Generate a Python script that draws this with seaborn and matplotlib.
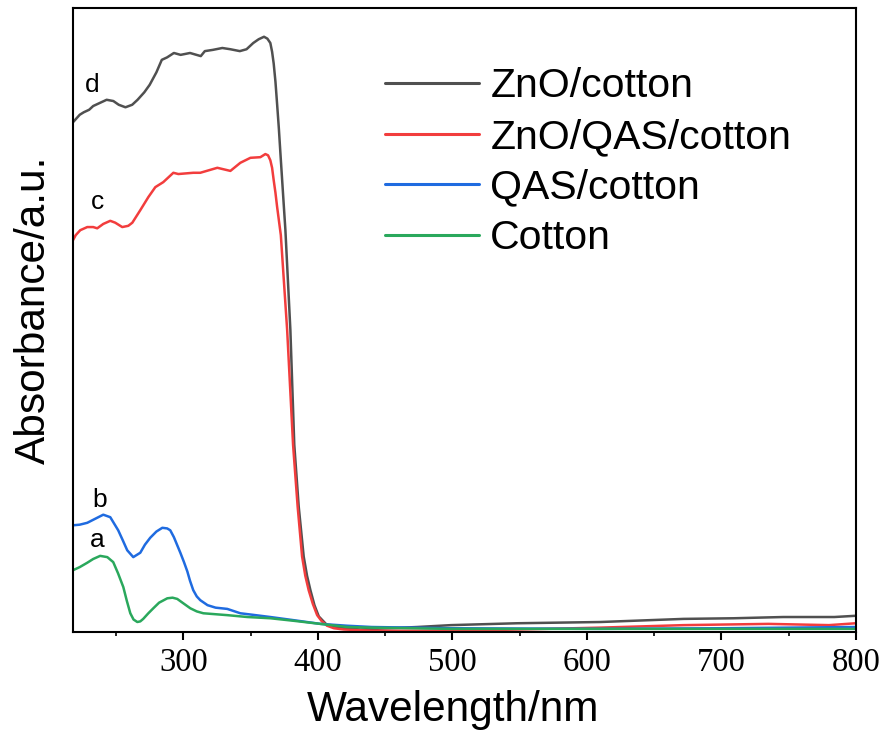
import numpy as np
import pandas as pd
import seaborn as sns
from matplotlib import pyplot as plt
from matplotlib.ticker import MultipleLocator

# wavelength (nm) / absorbance (a.u.)
zno_x = [218, 223, 226, 230, 233, 238, 243, 248, 252, 257, 262, 266, 271, 275, 280,
         284, 288, 293, 298, 305, 313, 316, 322, 329, 335, 342, 347, 352, 356, 360, 362.5,
         364.7, 366, 367.2, 368.5, 369.7, 371, 372.2, 374.6, 375.9, 379.6, 382.5, 385.8,
         389.5, 392, 394.5, 397.5, 400.7, 406.9, 419.3, 431.7, 474, 499, 548, 610, 672,
         709, 746, 784, 800]
zno_y = [0.817, 0.829, 0.833, 0.837, 0.843, 0.848, 0.853, 0.851, 0.845, 0.841, 0.845,
         0.853, 0.865, 0.877, 0.897, 0.917, 0.921, 0.928, 0.925, 0.928, 0.923, 0.931,
         0.933, 0.936, 0.934, 0.931, 0.934, 0.944, 0.950, 0.954, 0.951, 0.944, 0.930,
         0.911, 0.882, 0.847, 0.808, 0.767, 0.687, 0.644, 0.484, 0.300, 0.201, 0.121,
         0.090, 0.067, 0.043, 0.025, 0.011, 0.006, 0.004, 0.008, 0.011, 0.014, 0.016,
         0.021, 0.022, 0.024, 0.024, 0.026]

znoqas_x = [218, 220, 223.4, 228.6, 233, 236, 240.5, 245.7, 249.4, 254.6, 259.1, 262.1,
            268, 274, 279.2, 285.1, 292.6, 296.3, 307.4, 312.6, 325.3, 335, 342.4, 349.9,
            357.3, 361, 363, 364.7, 366, 367.2, 368.5, 369.7, 372.5, 377.2, 381.6, 385,
            388.3, 390.7, 393.2, 396.3, 399.5, 403, 406.9, 412, 419.3, 440, 500, 550, 610,
            672, 735, 780, 800]
znoqas_y = [0.628, 0.636, 0.644, 0.649, 0.649, 0.647, 0.654, 0.659, 0.656, 0.649, 0.651,
            0.656, 0.676, 0.697, 0.713, 0.721, 0.736, 0.734, 0.736, 0.736, 0.744, 0.739,
            0.752, 0.760, 0.761, 0.766, 0.764, 0.756, 0.744, 0.724, 0.704, 0.682, 0.636,
            0.484, 0.300, 0.201, 0.121, 0.090, 0.067, 0.045, 0.027, 0.017, 0.010, 0.006,
            0.004, 0.002, 0.002, 0.004, 0.007, 0.011, 0.013, 0.011, 0.014]

qas_x = [218, 223, 228.6, 235, 240.5, 245.7, 251.6, 255, 258.3, 262.8, 268, 271.5, 275.4,
         280, 284.4, 288, 290.3, 293, 297.8, 300.5, 303, 305, 307.4, 310, 312.6, 318, 324,
         332.7, 342.4, 350, 364.7, 381.8, 401.9, 422, 440, 499, 610, 700, 800]
qas_y = [0.171, 0.172, 0.175, 0.182, 0.188, 0.184, 0.163, 0.147, 0.131, 0.120, 0.127,
         0.140, 0.151, 0.161, 0.167, 0.166, 0.163, 0.152, 0.127, 0.112, 0.097, 0.082,
         0.067, 0.057, 0.051, 0.043, 0.039, 0.037, 0.030, 0.028, 0.024, 0.019, 0.013,
         0.010, 0.008, 0.006, 0.005, 0.006, 0.008]

cotton_x = [218, 223, 228.6, 233, 238.2, 243.5, 247.9, 251.5, 255.4, 258, 260.6, 263,
            265.8, 268, 270.2, 274, 277.7, 282, 288.1, 292, 295.5, 300, 305.2, 310, 314.9,
            332.7, 347.6, 364.7, 381.8, 401.9, 422, 440, 499, 610, 700, 800]
cotton_y = [0.099, 0.104, 0.111, 0.117, 0.122, 0.120, 0.112, 0.094, 0.072, 0.050, 0.030,
            0.020, 0.016, 0.017, 0.021, 0.030, 0.038, 0.047, 0.054, 0.055, 0.053, 0.046,
            0.038, 0.033, 0.030, 0.027, 0.024, 0.022, 0.018, 0.013, 0.008, 0.007, 0.005,
            0.005, 0.005, 0.005]

names = ["ZnO/cotton", "ZnO/QAS/cotton", "QAS/cotton", "Cotton"]
colors = ["#505050", "#f23d3d", "#1f6be0", "#2aa85c"]
tags = ["d", "c", "b", "a"]
tag_x = [232, 236, 238, 236]
tag_y = [0.877, 0.689, 0.212, 0.147]


def main():
    series = [(zno_x, zno_y), (znoqas_x, znoqas_y), (qas_x, qas_y), (cotton_x, cotton_y)]
    df = pd.concat(
        [pd.DataFrame({"wl": x, "abs": y, "sample": n}) for (x, y), n in zip(series, names)],
        ignore_index=True,
    )

    sns.set_theme(style="ticks")
    plt.rcParams["font.family"] = ["Liberation Sans", "DejaVu Sans"]
    plt.rcParams["text.color"] = "black"
    plt.rcParams["axes.labelcolor"] = "black"
    plt.rcParams["xtick.color"] = "black"
    plt.rcParams["ytick.color"] = "black"

    fig = plt.figure(figsize=(8.86, 7.33), dpi=100)
    ax = fig.add_axes([0.0824, 0.1378, 0.8836, 0.8512])

    sns.lineplot(
        data=df,
        x="wl",
        y="abs",
        hue="sample",
        hue_order=names,
        palette=colors,
        estimator=None,
        sort=False,
        linewidth=1.8,
        ax=ax,
    )

    for t, tx, ty in zip(tags, tag_x, tag_y):
        ax.text(tx, ty, t, fontsize=19, ha="center", va="center", color="black")

    ax.set_xlim(218, 800)
    ax.set_ylim(0, 1)
    ax.set_yticks([])
    ax.xaxis.set_major_locator(MultipleLocator(100))
    ax.xaxis.set_minor_locator(MultipleLocator(50))
    ax.tick_params(axis="x", which="major", direction="out", length=6, width=1.5,
                   labelsize=23.5, pad=5)
    ax.tick_params(axis="x", which="minor", direction="out", length=3, width=1.2)
    for lab in ax.get_xticklabels():
        lab.set_family(["Liberation Serif", "DejaVu Serif"])
        lab.set_color("black")

    for s in ax.spines.values():
        s.set_linewidth(1.5)
        s.set_color("black")

    ax.set_xlabel("Wavelength/nm", fontsize=30.5)
    ax.xaxis.set_label_coords(0.486, -0.093)
    ax.set_ylabel("Absorbance/a.u.", fontsize=30.5)
    ax.yaxis.set_label_coords(-0.024, 0.516)

    handles, labels = ax.get_legend_handles_labels()
    leg = ax.legend(
        handles,
        labels,
        loc="upper left",
        bbox_to_anchor=(0.398, 0.905),
        frameon=False,
        fontsize=29.5,
        handlelength=2.3,
        handletextpad=0.28,
        labelspacing=0.31,
        borderaxespad=0,
        borderpad=0,
    )
    for line in leg.get_lines():
        line.set_linewidth(2.2)
    for txt in leg.get_texts():
        txt.set_color("black")

    fig.savefig("out.png", dpi=100)


if __name__ == "__main__":
    main()
